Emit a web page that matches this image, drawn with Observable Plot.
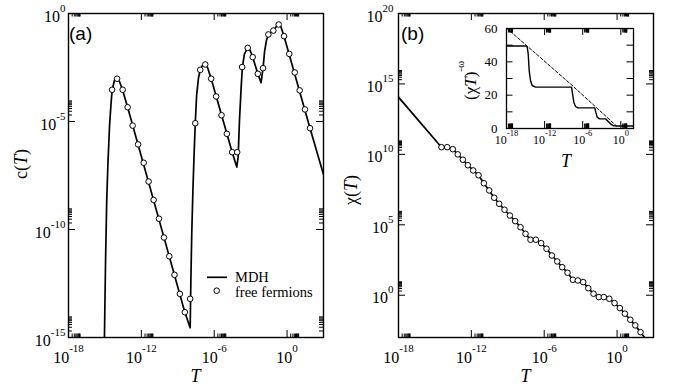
<!DOCTYPE html>
<html><head><meta charset="utf-8">
<script src="https://cdn.jsdelivr.net/npm/d3@7"></script>
<script src="https://cdn.jsdelivr.net/npm/@observablehq/plot@0.6"></script>
<style>
body{margin:0;background:#fff}
#wrap{position:relative;width:673px;height:390px;overflow:hidden;background:#fff}
#wrap svg{position:absolute;overflow:visible}
</style>
</head><body><div id="wrap"></div>
<script>
// ---------- data (log10 values) ----------
// panel (a): specific heat c(T)
const cLineLogT = [-15.04,-14.95,-14.85,-14.75,-14.62,-14.5,-14.41,-14.22,-14.0,-13.8,-13.56,-13.13,-8.42,-7.98,-7.92,-7.85,-7.75,-7.65,-7.56,-7.45,-7.3,-7.15,-6.95,-6.75,-6.55,-6.25,-4.52,-4.14,-4.03,-3.92,-3.78,-3.68,-3.51,-3.24,-3.05,-2.83,-2.41,-2.14,-1.98,-1.85,-1.7,-1.54,-1.13,-0.85,-0.69,-0.5,-0.25,1.89,3.0];
const cLineLogC = [-15,-11.5,-8.6,-6.9,-5.2,-4.2,-3.55,-3.1,-2.98,-3.15,-3.52,-4.34,-13.83,-14.55,-12.3,-10.2,-8.1,-6.4,-5.08,-3.8,-3.0,-2.6,-2.38,-2.33,-2.5,-3.02,-6.42,-7.11,-6.65,-4.95,-3.41,-2.48,-1.87,-1.59,-1.7,-2.02,-2.79,-3.2,-2.53,-1.75,-1.25,-0.97,-0.79,-0.58,-0.5,-0.62,-1.05,-5.31,-7.45];
const cFermLogT = [-14.41,-14.0,-13.54,-13.13,-12.72,-12.27,-11.81,-11.40,-10.99,-10.55,-10.14,-9.70,-9.27,-8.83,-8.42,-7.98,-7.56,-7.15,-6.74,-6.25,-5.84,-5.40,-4.96,-4.52,-4.11,-3.70,-3.24,-2.83,-2.41,-1.98,-1.54,-1.13,-0.69,-0.25,0.18,0.63,1.04,1.47,1.89];
const cFermLogC = [-3.53,-3.02,-3.53,-4.34,-5.19,-6.06,-6.91,-7.78,-8.63,-9.50,-10.37,-11.24,-12.10,-12.98,-13.83,-13.21,-5.08,-2.61,-2.36,-3.02,-3.84,-4.71,-5.57,-6.42,-6.42,-2.48,-1.59,-2.02,-2.79,-2.53,-0.97,-0.79,-0.51,-1.05,-1.87,-2.73,-3.56,-4.44,-5.31];

// panel (b): susceptibility chi(T)
const chiLineLogT = [-18,-14.46,-13.99,-13.53,-13.12,-12.70,-12.29,-11.85,-11.41,-10.97,-10.53,-10.12,-9.71,-9.27,-8.83,-8.39,-7.95,-7.54,-7.13,-6.69,-6.25,-5.81,-5.37,-4.93,-4.52,-4.08,-3.64,-3.23,-2.79,-2.37,-1.94,-1.50,-1.09,-0.64,-0.21,0.23,0.64,1.09,1.50,1.93,2.4];
const chiLineLogX = [14.06,10.51,10.51,10.37,10.0,9.62,9.23,8.86,8.52,7.95,7.44,6.92,6.49,6.07,5.66,5.26,4.83,4.36,3.94,3.94,3.70,3.30,2.82,2.40,1.99,1.60,1.10,1.05,0.93,0.50,0.11,-0.13,-0.13,-0.25,-0.56,-0.91,-1.31,-1.74,-2.14,-2.62,-3.15];
const chiFermLogT = [-14.46,-13.99,-13.53,-13.12,-12.70,-12.29,-11.85,-11.41,-10.97,-10.53,-10.12,-9.71,-9.27,-8.83,-8.39,-7.95,-7.54,-7.13,-6.69,-6.25,-5.81,-5.37,-4.93,-4.52,-4.08,-3.64,-3.23,-2.79,-2.37,-1.94,-1.50,-1.09,-0.64,-0.21,0.23,0.64,1.09,1.50,1.93];
const chiFermLogX = [10.51,10.51,10.37,10.0,9.62,9.23,8.86,8.52,7.95,7.44,6.92,6.49,6.07,5.66,5.26,4.83,4.36,3.94,3.94,3.70,3.30,2.82,2.40,1.99,1.60,1.10,1.05,0.93,0.50,0.11,-0.13,-0.13,-0.25,-0.56,-0.91,-1.31,-1.74,-2.14,-2.62];

// inset: (chi T)^(-omega)
const insSolidLogT = [-18,-14.85,-14.74,-14.58,-14.43,-14.22,-13.96,-13.43,-7.76,-7.6,-7.4,-7.13,-6.77,-4.1,-3.94,-3.72,-3.35,-2.4,-2.14,-1.62,-1.1,-0.57,2];
const insSolidVal  = [49.5,49.5,48.8,44.8,34.8,28.8,25.8,24.8,24.8,20.8,15.8,13.2,12.4,12.4,9.8,6.8,5.8,5.8,4.8,2.8,1.6,1.5,1.5];
const insDashLogT = [-18,-7.7,-0.7];
const insDashVal  = [60.3,26.0,1.6];

// tick labels
const xMajor = [1e-18,1e-12,1e-6,1e0];
const yMajorA = [1e-15,1e-10,1e-5,1e0];
const yMajorB = [1e0,1e5,1e10,1e15,1e20];
const insYLabels = [0,20,40,60];
const insYTicks = [10,20,30,40,50];
const legendLabels = ["MDH","free fermions"];

// ---------- helpers ----------
const P = v => Math.pow(10, v);
const cLine = cLineLogT.map((v,i)=>({T:P(v), c:P(cLineLogC[i])}));
const cFerm = cFermLogT.map((v,i)=>({T:P(v), c:P(cFermLogC[i])}));
const chiLine = chiLineLogT.map((v,i)=>({T:P(v), chi:P(chiLineLogX[i])}));
const chiFerm = chiFermLogT.map((v,i)=>({T:P(v), chi:P(chiFermLogX[i])}));
const insSolid = insSolidLogT.map((v,i)=>({T:P(v), w:insSolidVal[i]}));
const insDash = insDashLogT.map((v,i)=>({T:P(v), w:insDashVal[i]}));

const minorOf = (majors, dom) => majors.flatMap(m=>[2,3,4,5,6,7,8,9].map(k=>m*k)).filter(v=>v>=dom[0]*0.999 && v<=dom[1]*1.001);
const supFmt = d => "10^" + Math.round(Math.log10(d));
const SERIF = "'Liberation Serif','Times New Roman',serif";

function frameTicks(xMaj,xMin,yMaj,yMin,w,h,mj,mn,ymj,ymn){
  const s = {stroke:"black", strokeWidth:1};
  const m = [
    Plot.tickX(xMaj,{x:d=>d, insetTop:h-mj, ...s}),
    Plot.tickX(xMaj,{x:d=>d, insetBottom:h-mj, ...s}),
    Plot.tickX(xMin,{x:d=>d, insetTop:h-mn, ...s}),
    Plot.tickX(xMin,{x:d=>d, insetBottom:h-mn, ...s}),
    Plot.tickY(yMaj,{y:d=>d, insetRight:w-ymj, ...s}),
    Plot.tickY(yMaj,{y:d=>d, insetLeft:w-ymj, ...s})
  ];
  if (yMin && yMin.length) {
    m.push(Plot.tickY(yMin,{y:d=>d, insetRight:w-ymn, ...s}));
    m.push(Plot.tickY(yMin,{y:d=>d, insetLeft:w-ymn, ...s}));
  }
  return m;
}
function supLabels(svg, axis, expSize, shift, baseDy){
  d3.select(svg).selectAll(`g[aria-label="${axis}-axis tick label"] text`).each(function(){
    const s = this.textContent; const mm = s.match(/^10\^(.+)$/);
    if(!mm) return;
    this.textContent = "";
    const t = d3.select(this);
    const b = t.append("tspan").text("10");
    if (baseDy) b.attr("dy", baseDy);
    t.append("tspan").attr("dy", -shift).attr("font-size", expSize).text(mm[1]);
  });
}
function rotLabel(svg, x, y, parts, size, anchor){
  const t = d3.select(svg).append("text")
    .attr("transform",`translate(${x},${y}) rotate(-90)`)
    .attr("text-anchor", anchor||"middle").attr("font-family",SERIF)
    .attr("font-size",size).attr("fill","black");
  parts.forEach(p=>{
    const ts = t.append("tspan").text(p.t);
    if(p.i) ts.attr("font-style","italic");
    if(p.dy) ts.attr("dy",p.dy);
    if(p.fs) ts.attr("font-size",p.fs);
  });
  return t;
}
function hLabel(svg, x, y, parts, size, family, anchor){
  const t = d3.select(svg).append("text").attr("x",x).attr("y",y)
    .attr("text-anchor",anchor||"middle").attr("font-family",family||SERIF)
    .attr("font-size",size).attr("fill","black");
  parts.forEach(p=>{
    const ts = t.append("tspan").text(p.t);
    if(p.i) ts.attr("font-style","italic");
  });
  return t;
}

const wrap = document.getElementById("wrap");

// ---------- panel (a) ----------
{
  const W=336,H=390,mL=68,mR=13,mT=13,mB=53, w=W-mL-mR, h=H-mT-mB;
  const xd=[1e-18,1e3], yd=[1e-15,1];
  const svg = Plot.plot({
    width:W, height:H, marginLeft:mL, marginRight:mR, marginTop:mT, marginBottom:mB,
    x:{type:"log", domain:xd, label:null}, y:{type:"log", domain:yd, label:null},
    style:{fontFamily:SERIF, fontSize:"16px", color:"black", background:"transparent"},
    marks:[
      Plot.line(cLine,{x:"T", y:"c", stroke:"black", strokeWidth:1.7, clip:true}),
      Plot.dot(cFerm,{x:"T", y:"c", r:2.8, fill:"white", stroke:"black", strokeWidth:1}),
      ...frameTicks(xMajor, minorOf(xMajor,xd), yMajorA, minorOf(yMajorA,yd), w, h, 7, 3.5, 7, 4),
      Plot.axisX(xMajor,{anchor:"bottom", tickSize:0, tickPadding:14, tickFormat:supFmt, label:null}),
      Plot.axisY(yMajorA,{anchor:"left", tickSize:0, tickPadding:3, tickFormat:supFmt, label:null}),
      Plot.frame({stroke:"black", strokeWidth:1.4})
    ]
  });
  svg.style.left="0px"; svg.style.top="0px";
  wrap.appendChild(svg);
  supLabels(svg, "x", 11, 11, 0);
  supLabels(svg, "y", 11, 10, 3);
  rotLabel(svg, 27, 164, [{t:"c("},{t:"T",i:true},{t:")"}], 18);
  hLabel(svg, 195.5, 382, [{t:"T",i:true}], 18);
  hLabel(svg, 69, 39.5, [{t:"(a)"}], 19, "'Liberation Sans',Arial,sans-serif", "start");
  // legend
  const g = d3.select(svg).append("g");
  g.append("line").attr("x1",207).attr("x2",227).attr("y1",277.3).attr("y2",277.3).attr("stroke","black").attr("stroke-width",1.7);
  g.append("circle").attr("cx",216.7).attr("cy",290.7).attr("r",2.8).attr("fill","white").attr("stroke","black");
  hLabel(svg, 235, 281.5, [{t:legendLabels[0]}], 14.5, SERIF, "start");
  hLabel(svg, 235, 296.5, [{t:legendLabels[1]}], 14.5, SERIF, "start");
}

// ---------- panel (b) ----------
{
  const W=337,H=390,mL=62,mR=20,mT=13,mB=53, w=W-mL-mR, h=H-mT-mB;
  const xd=[1e-18,1e3], yd=[1e-3,1e20];
  const svg = Plot.plot({
    width:W, height:H, marginLeft:mL, marginRight:mR, marginTop:mT, marginBottom:mB,
    x:{type:"log", domain:xd, label:null}, y:{type:"log", domain:yd, label:null},
    style:{fontFamily:SERIF, fontSize:"16px", color:"black", background:"transparent"},
    marks:[
      Plot.line(chiLine,{x:"T", y:"chi", stroke:"black", strokeWidth:1.7, clip:true}),
      Plot.dot(chiFerm,{x:"T", y:"chi", r:2.8, fill:"white", stroke:"black", strokeWidth:1}),
      ...frameTicks(xMajor, minorOf(xMajor,xd), yMajorB, minorOf(yMajorB,yd), w, h, 7, 3.5, 7, 4),
      Plot.axisX(xMajor,{anchor:"bottom", tickSize:0, tickPadding:14, tickFormat:supFmt, label:null}),
      Plot.axisY(yMajorB,{anchor:"left", tickSize:0, tickPadding:5, tickFormat:supFmt, label:null}),
      Plot.frame({stroke:"black", strokeWidth:1.4})
    ]
  });
  svg.style.left="336px"; svg.style.top="0px";
  wrap.appendChild(svg);
  supLabels(svg, "x", 11, 11, 0);
  supLabels(svg, "y", 11, 10, 3);
  rotLabel(svg, 21, 190, [{t:"χ("},{t:"T",i:true},{t:")"}], 18);
  hLabel(svg, 189.5, 382, [{t:"T",i:true}], 18);
  hLabel(svg, 65, 39.5, [{t:"(b)"}], 19, "'Liberation Sans',Arial,sans-serif", "start");
}

// ---------- inset ----------
{
  const W=200,H=175,mL=66,mR=7,mT=28,mB=47, w=W-mL-mR, h=H-mT-mB;
  const xd=[1e-18,1e2], yd=[0,60];
  const svg = Plot.plot({
    width:W, height:H, marginLeft:mL, marginRight:mR, marginTop:mT, marginBottom:mB,
    x:{type:"log", domain:xd, label:null}, y:{domain:yd, label:null},
    style:{fontFamily:SERIF, fontSize:"13px", color:"black", background:"transparent"},
    marks:[
      Plot.line(insDash,{x:"T", y:"w", stroke:"black", strokeWidth:1, strokeDasharray:"3,2", clip:true}),
      Plot.line(insSolid,{x:"T", y:"w", stroke:"black", strokeWidth:1.4, clip:true}),
      ...frameTicks(xMajor, minorOf(xMajor,xd), insYTicks, [], w, h, 7, 4.5, 6.5, 0),
      Plot.axisX(xMajor,{anchor:"bottom", tickSize:0, tickPadding:7, tickFormat:supFmt, fontSize:12, label:null}),
      Plot.axisY(insYLabels,{anchor:"left", tickSize:0, tickPadding:9, tickFormat:d=>String(d), fontSize:13, label:null}),
      Plot.frame({stroke:"black", strokeWidth:1.3})
    ]
  });
  svg.style.left="440px"; svg.style.top="0px";
  wrap.appendChild(svg);
  supLabels(svg, "x", 8.5, 8, 0);
  rotLabel(svg, 36, 100, [{t:"(χ"},{t:"T",i:true},{t:")"},{t:"-ω",dy:-12,fs:11}], 17, "start");
  hLabel(svg, 126, 167, [{t:"T",i:true}], 18);
}
</script>
</body></html>
